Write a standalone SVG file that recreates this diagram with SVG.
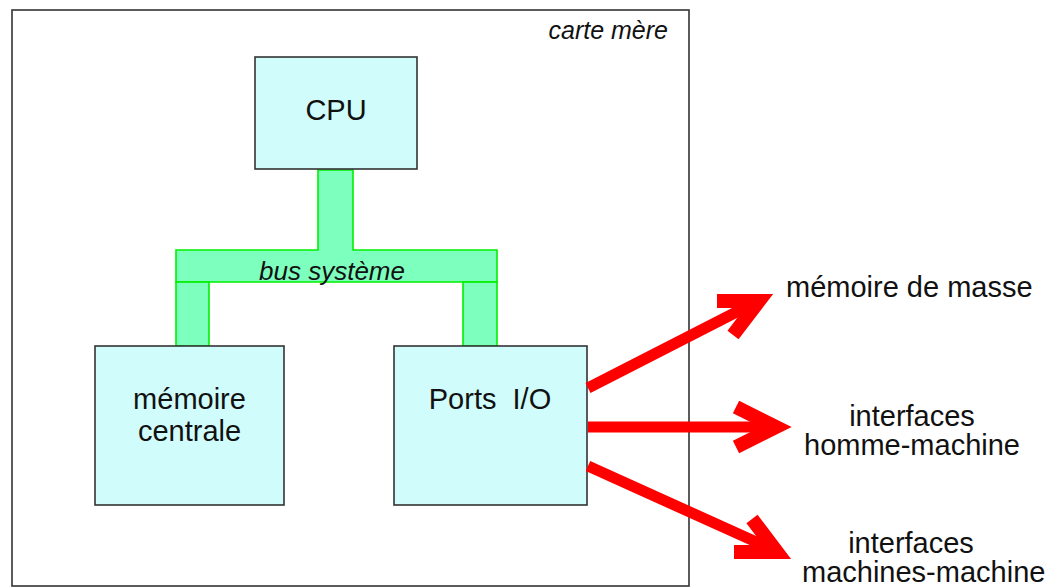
<svg xmlns="http://www.w3.org/2000/svg" width="1053" height="587" viewBox="0 0 1053 587">
<style>
.box{fill:#d0fcfc;stroke:#333;stroke-width:1.6}
.bus{fill:#7dffbd;stroke:#00f000;stroke-width:1.6}
.t{font-family:"Liberation Sans",Arial,sans-serif;font-size:29px;fill:#111}
.i{font-family:"Liberation Sans",Arial,sans-serif;font-style:italic;fill:#111}
.arr{fill:none;stroke:#ff0000;stroke-width:11;stroke-linejoin:miter;stroke-miterlimit:6;stroke-linecap:butt}
.head{fill:none;stroke:#ff0000;stroke-width:14;stroke-linejoin:miter;stroke-miterlimit:6;stroke-linecap:butt}
</style>
<rect width="1053" height="587" fill="#fff"/>
<g id="board">
<rect x="12" y="10" width="677" height="576" fill="none" stroke="#333" stroke-width="1.6"/>
<text class="i" x="668" y="39" font-size="25" text-anchor="end">carte mère</text>
</g>
<g id="bus">
<path class="bus" d="M318,170 H353 V250 H497 V282 H176 V250 H318 Z"/>
<rect class="bus" x="176" y="282" width="33" height="64"/>
<rect class="bus" x="463" y="282" width="34" height="64"/>
<text class="i" x="332" y="280" font-size="26" text-anchor="middle">bus système</text>
</g>
<g id="cpu">
<rect class="box" x="255" y="57" width="162" height="112"/>
<text class="t" x="336" y="120" text-anchor="middle">CPU</text>
</g>
<g id="memoire">
<rect class="box" x="95" y="346" width="189" height="159"/>
<text class="t" x="189.5" y="409" text-anchor="middle">mémoire</text>
<text class="t" x="189.5" y="441" text-anchor="middle">centrale</text>
</g>
<g id="ports">
<rect class="box" x="394" y="346" width="193" height="159"/>
<text class="t" x="490" y="409" text-anchor="middle" xml:space="preserve">Ports  I/O</text>
</g>
<g id="connectors">
<line class="arr" x1="588" y1="388" x2="758" y2="301"/>
<polyline class="head" points="717,301 759,301 733,335"/>
<line class="arr" x1="588" y1="427" x2="775" y2="427"/>
<polyline class="head" points="736,407 776,427 736,447"/>
<line class="arr" x1="588" y1="466" x2="776" y2="551"/>
<polyline class="head" points="752,519 777,552 734,552"/>
</g>
<g id="ext-masse">
<text class="t" x="786" y="297">mémoire de masse</text>
</g>
<g id="ext-ihm">
<text class="t" x="912" y="426" text-anchor="middle">interfaces</text>
<text class="t" x="912" y="455" text-anchor="middle">homme-machine</text>
</g>
<g id="ext-imm">
<text class="t" x="911" y="553" text-anchor="middle">interfaces</text>
<text class="t" x="802" y="582">machines-machine</text>
</g>
</svg>
